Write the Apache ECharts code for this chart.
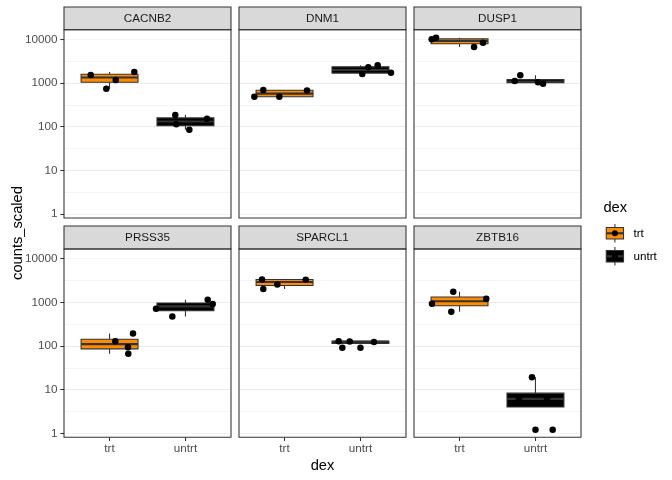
<!DOCTYPE html>
<html><head><meta charset="utf-8">
<script src="https://cdn.jsdelivr.net/npm/echarts@6/dist/echarts.min.js"></script>
<style>html,body{margin:0;padding:0;background:#fff}#c{width:672px;height:480px}</style>
</head><body><div id="c"></div>
<script>
const genes = ['CACNB2','DNM1','DUSP1','PRSS35','SPARCL1','ZBTB16'];
const groups = ['trt','untrt'];
const yTicks = [1,10,100,1000,10000];
const xTicks = [1,2];
const trtCounts = [
  [1520,1780,1170,736],
  [687,676,482,482],
  [10000,10900,6650,8360],
  [129,194,93.8,65.9],
  [3340,3300,2570,2010],
  [1742,1202,924,605]
];
const untrtCounts = [
  [184,151,114,84.5],
  [2280,2540,1600,1714],
  [1500,1107,1033,960],
  [1140,910,710,474],
  [129,127,124,90.4],
  [19.1,6.0,6.3,1.2]
];
const trtJitter = [
  [0.752,1.326,1.081,0.957],
  [0.72,1.296,0.602,0.931],
  [0.633,0.69,1.191,1.309],
  [1.076,1.309,1.243,1.247],
  [0.703,1.279,0.905,0.72],
  [0.917,1.352,0.637,0.891]
];
const untrtJitter = [
  [1.866,2.284,1.879,2.051],
  [2.103,2.227,2.024,2.402],
  [1.8,1.727,2.034,2.1],
  [2.293,2.359,1.612,1.827],
  [1.713,1.858,2.178,1.761],
  [1.954,1.783,2.152,2.227]
];
const fills = ['#FF8C00','#000000'];

const FONT = "'Liberation Sans', Arial, Helvetica, sans-serif";
const LEFTS = [64, 239, 414], PW = 167;
const TOPS = [29.7, 249], PH = 188.3;
const STRIP_TOPS = [7, 226];
const YMIN = 0.81, YMAX = 16600;

function boxStats(vals){
  const l = vals.map(Math.log10).sort((a,b)=>a-b);
  const q = p => { const h=(l.length-1)*p, lo=Math.floor(h), hi=Math.ceil(h); return l[lo]+(h-lo)*(l[hi]-l[lo]); };
  const q1=q(0.25), md=q(0.5), q3=q(0.75), iqr=q3-q1;
  const lo = q1-1.5*iqr, hi = q3+1.5*iqr;
  const inR = l.filter(v=>v>=lo-1e-12 && v<=hi+1e-12);
  const out = l.filter(v=>v<lo-1e-12 || v>hi+1e-12);
  const p = v=>Math.pow(10,v);
  return {box:[p(Math.min(...inR)), p(q1), p(md), p(q3), p(Math.max(...inR))], out: out.map(p)};
}

const grids=[], xAxes=[], yAxes=[], series=[], graphics=[];
genes.forEach((g,i)=>{
  const r = Math.floor(i/3), c = i%3;
  const left = LEFTS[c], top = TOPS[r];
  grids.push({left:left, top:top, width:PW, height:PH, containLabel:false, outerBoundsMode:'none'});
  const bottomRow = r===1, leftCol = c===0;
  xAxes.push({
    type:'value', gridIndex:i, min:0.4, max:2.6, minInterval:1, maxInterval:1,
    axisLine:{show:false},
    axisTick:{show:bottomRow, length:3.7, customValues:xTicks, lineStyle:{color:'#333333', width:1.07}},
    axisLabel:{show:bottomRow, customValues:xTicks, margin:5, color:'#4d4d4d', fontSize:11.7, fontFamily:FONT,
      formatter:v=>groups[Math.round(v)-1] || ''},
    splitLine:{show:true, showMinLine:false, showMaxLine:false, lineStyle:{color:'#ebebeb', width:1.07}}
  });
  yAxes.push({
    type:'log', logBase:10, gridIndex:i, min:YMIN, max:YMAX,
    axisLine:{show:false},
    axisTick:{show:leftCol, length:3.7, customValues:yTicks, lineStyle:{color:'#333333', width:1.07}},
    axisLabel:{show:leftCol, customValues:yTicks, margin:6.6, color:'#4d4d4d', fontSize:11.7, fontFamily:FONT,
      formatter:v=>String(Math.round(v))},
    splitLine:{show:true, showMinLine:false, showMaxLine:false, lineStyle:{color:'#ebebeb', width:1.07}}
  });
  yAxes.push({
    type:'log', logBase:Math.sqrt(10), gridIndex:i, min:YMIN, max:YMAX, position:'right',
    axisLine:{show:false}, axisTick:{show:false}, axisLabel:{show:false},
    splitLine:{show:true, showMinLine:false, showMaxLine:false, lineStyle:{color:'#ebebeb', width:0.55}}
  });

  const sets = [trtCounts[i], untrtCounts[i]];
  const jit = [trtJitter[i], untrtJitter[i]];
  const boxData = [], outData = [], ptData = [];
  sets.forEach((vals,k)=>{
    const s = boxStats(vals);
    boxData.push([k+1].concat(s.box).concat([k]));
    s.out.forEach(v=>outData.push([k+1, v]));
    vals.forEach((v,j)=>ptData.push([jit[k][j], v]));
  });
  series.push({
    type:'custom', xAxisIndex:i, yAxisIndex:2*i, z:2,
    encode:{x:0, y:[1,2,3,4,5]},
    data: boxData,
    renderItem:(params, api)=>{
      const x = api.value(0), lo = api.value(1), q1 = api.value(2), md = api.value(3), q3 = api.value(4), hi = api.value(5), k = api.value(6);
      const a = api.coord([x-0.375, q3]), b = api.coord([x+0.375, q1]);
      const mL = api.coord([x-0.375, md]), mR = api.coord([x+0.375, md]);
      const pLo = api.coord([x, lo]), pHi = api.coord([x, hi]), c1 = api.coord([x, q1]), c3 = api.coord([x, q3]);
      const stroke = {stroke:'#333333', lineWidth:1.07, fill:null};
      return {type:'group', children:[
        {type:'line', shape:{x1:c3[0], y1:c3[1], x2:pHi[0], y2:pHi[1]}, style:stroke},
        {type:'line', shape:{x1:c1[0], y1:c1[1], x2:pLo[0], y2:pLo[1]}, style:stroke},
        {type:'rect', shape:{x:a[0], y:a[1], width:b[0]-a[0], height:b[1]-a[1]}, style:{fill:fills[k], stroke:'#333333', lineWidth:1.07}},
        {type:'line', shape:{x1:mL[0], y1:mL[1], x2:mR[0], y2:mR[1]}, style:{stroke:'#333333', lineWidth:2.13}}
      ]};
    }
  });
  series.push({type:'scatter', xAxisIndex:i, yAxisIndex:2*i, z:3, data:outData, symbolSize:6.5,
    itemStyle:{color:'#000000', opacity:1}, silent:true});
  series.push({type:'scatter', xAxisIndex:i, yAxisIndex:2*i, z:4, data:ptData, symbolSize:6.5,
    itemStyle:{color:'#000000', opacity:1}, silent:true});

  // strip and panel border
  const st = STRIP_TOPS[r];
  graphics.push({type:'rect', z:100, shape:{x:left, y:st, width:PW, height:top-st},
    style:{fill:'#d9d9d9', stroke:'#333333', lineWidth:1.07}});
  graphics.push({type:'text', z:101, x:left+PW/2, y:st+(top-st)/2,
    style:{text:g, fill:'#1a1a1a', font:'11.7px '+FONT, textAlign:'center', textVerticalAlign:'middle', align:'center', verticalAlign:'middle'}});
  graphics.push({type:'rect', z:100, shape:{x:left, y:top, width:PW, height:PH},
    style:{fill:null, stroke:'#333333', lineWidth:1.07}});
});

// axis titles
graphics.push({type:'text', z:101, x:322.5, y:466,
  style:{text:'dex', fill:'#000000', font:'14.7px '+FONT, textAlign:'center', textVerticalAlign:'middle', align:'center', verticalAlign:'middle'}});
graphics.push({type:'text', z:101, x:18, y:233, rotation:Math.PI/2,
  style:{text:'counts_scaled', fill:'#000000', font:'14.7px '+FONT, textAlign:'center', textVerticalAlign:'middle', align:'center', verticalAlign:'middle'}});

// legend
graphics.push({type:'text', z:101, x:603.4, y:208,
  style:{text:'dex', fill:'#000000', font:'14.7px '+FONT, textAlign:'left', textVerticalAlign:'middle', align:'left', verticalAlign:'middle'}});
groups.forEach((name,k)=>{
  const kx = 603.4, ky = 221.8 + k*23, ks = 23, cx = kx+ks/2;
  graphics.push({type:'line', z:101, shape:{x1:cx, y1:ky+ks*0.1, x2:cx, y2:ky+ks*0.25}, style:{stroke:'#333333', lineWidth:1.07}});
  graphics.push({type:'line', z:101, shape:{x1:cx, y1:ky+ks*0.75, x2:cx, y2:ky+ks*0.9}, style:{stroke:'#333333', lineWidth:1.07}});
  graphics.push({type:'rect', z:101, shape:{x:kx+ks*0.125, y:ky+ks*0.25, width:ks*0.75, height:ks*0.5}, style:{fill:fills[k], stroke:'#333333', lineWidth:1.07}});
  graphics.push({type:'line', z:102, shape:{x1:kx+ks*0.125, y1:ky+ks/2, x2:kx+ks*0.875, y2:ky+ks/2}, style:{stroke:'#333333', lineWidth:2.13}});
  graphics.push({type:'circle', z:103, shape:{cx:cx, cy:ky+ks/2, r:3}, style:{fill:'#000000'}});
  graphics.push({type:'text', z:101, x:kx+ks+7, y:ky+ks/2,
    style:{text:name, fill:'#000000', font:'11.7px '+FONT, textAlign:'left', textVerticalAlign:'middle', align:'left', verticalAlign:'middle'}});
});

const chart = echarts.init(document.getElementById('c'), null, {renderer:'canvas'});
chart.setOption({
  animation:false,
  backgroundColor:'#ffffff',
  grid:grids, xAxis:xAxes, yAxis:yAxes, series:series, graphic:{elements:graphics}
});
</script></body></html>
